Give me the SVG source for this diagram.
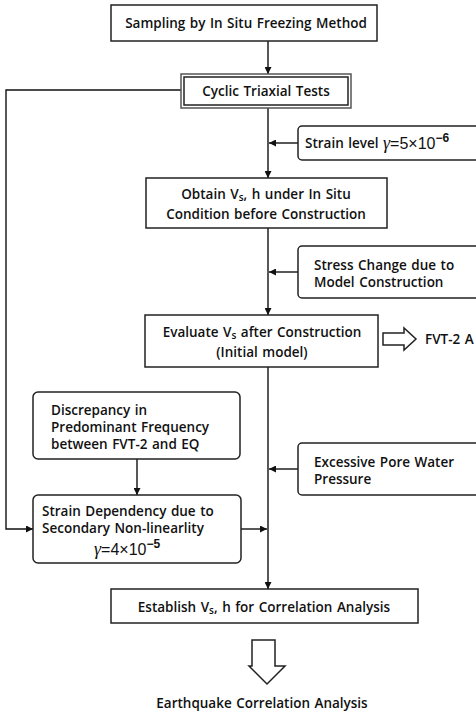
<svg xmlns="http://www.w3.org/2000/svg" width="476" height="715" viewBox="0 0 476 715">
<defs>
<marker id="ah" viewBox="0 0 10 10" refX="10" refY="5" markerWidth="7" markerHeight="7" markerUnits="userSpaceOnUse" orient="auto"><path d="M0,0 L10,5 L0,10 z" fill="#111"/></marker>
<style>
.box{fill:#fff;stroke:#222;stroke-width:1.5}
.ln{fill:none;stroke:#111;stroke-width:1.4}
.t{font-family:"Open Sans","Liberation Sans",sans-serif;font-size:13.5px;font-weight:600;fill:#111;word-spacing:1px}
.m{font-family:"Liberation Sans",sans-serif;font-size:16px;fill:#111;font-weight:normal}
.g{font-family:"Liberation Serif",serif;font-style:italic;font-weight:normal;font-size:18px}
.sup{font-size:12px;font-weight:600}
.hol{fill:#fff;stroke:#222;stroke-width:1.5}
</style>
</defs>
<rect width="476" height="715" fill="#fff"/>
<g id="connectors">
<line class="ln" x1="268" y1="41" x2="268" y2="74" marker-end="url(#ah)"/>
<line class="ln" x1="268" y1="108" x2="268" y2="178" marker-end="url(#ah)"/>
<line class="ln" x1="298" y1="143" x2="269" y2="143" marker-end="url(#ah)"/>
<line class="ln" x1="268" y1="228" x2="268" y2="315" marker-end="url(#ah)"/>
<line class="ln" x1="298" y1="272" x2="269" y2="272" marker-end="url(#ah)"/>
<line class="ln" x1="268" y1="367" x2="268" y2="589" marker-end="url(#ah)"/>
<line class="ln" x1="298" y1="469" x2="269" y2="469" marker-end="url(#ah)"/>
<line class="ln" x1="241" y1="529" x2="267" y2="529" marker-end="url(#ah)"/>
<line class="ln" x1="137" y1="459" x2="137" y2="495" marker-end="url(#ah)"/>
<polyline class="ln" points="181,90 6,90 6,529 33,529" marker-end="url(#ah)"/>
</g>
<g id="sampling">
<rect class="box" x="111" y="5" width="266" height="36"/>
<text class="t" x="246" y="28" text-anchor="middle">Sampling by In Situ Freezing Method</text>
</g>
<g id="cyclic">
<rect x="181" y="74" width="170" height="34" fill="#fff" stroke="#555" stroke-width="1.5"/>
<rect x="184" y="77" width="164" height="28" fill="none" stroke="#222" stroke-width="1.5"/>
<text class="t" x="266" y="96" text-anchor="middle">Cyclic Triaxial Tests</text>
</g>
<g id="strainlevel">
<rect class="box" x="298" y="126" width="190" height="34" rx="4"/>
<text class="t" x="305" y="148">Strain level</text>
<text class="m" x="383" y="149"><tspan class="g">γ</tspan>=5×10<tspan class="sup" baseline-shift="super">−6</tspan></text>
</g>
<g id="obtain">
<rect class="box" x="146" y="178" width="241" height="50"/>
<text class="t" x="266" y="199" text-anchor="middle">Obtain V<tspan font-size="10" baseline-shift="-2">s</tspan>, h under In Situ</text>
<text class="t" x="266" y="219" text-anchor="middle">Condition before Construction</text>
</g>
<g id="stress">
<rect class="box" x="298" y="246" width="190" height="52" rx="4"/>
<text class="t" x="314" y="270">Stress Change due to</text>
<text class="t" x="314" y="287">Model Construction</text>
</g>
<g id="evaluate">
<rect class="box" x="145" y="315" width="233" height="52"/>
<text class="t" x="262" y="337" text-anchor="middle">Evaluate V<tspan font-size="10" baseline-shift="-2">s</tspan> after Construction</text>
<text class="t" x="262" y="357" text-anchor="middle">(Initial model)</text>
</g>
<g id="fvt2">
<path class="hol" d="M383,333 L404,333 L404,328 L416,339 L404,350 L404,345 L383,345 z"/>
<text class="t" x="425" y="344">FVT-2 A</text>
</g>
<g id="discrepancy">
<rect class="box" x="33" y="392" width="207" height="67" rx="5"/>
<text class="t" x="51" y="415">Discrepancy in</text>
<text class="t" x="51" y="432">Predominant Frequency</text>
<text class="t" x="51" y="449">between FVT-2 and EQ</text>
</g>
<g id="excessive">
<rect class="box" x="298" y="443" width="190" height="52" rx="4"/>
<text class="t" x="314" y="467">Excessive Pore Water</text>
<text class="t" x="314" y="484">Pressure</text>
</g>
<g id="straindep">
<rect class="box" x="33" y="495" width="208" height="68" rx="5"/>
<text class="t" x="42" y="516">Strain Dependency due to</text>
<text class="t" x="42" y="533">Secondary Non-linearlity</text>
<text class="m" x="94" y="555"><tspan class="g">γ</tspan>=4×10<tspan class="sup" baseline-shift="super">−5</tspan></text>
</g>
<g id="establish">
<rect class="box" x="111" y="589" width="307" height="34"/>
<text class="t" x="264" y="612" text-anchor="middle">Establish V<tspan font-size="10" baseline-shift="-2">s</tspan>, h for Correlation Analysis</text>
</g>
<g id="eq">
<path class="hol" d="M252,640 L275,640 L275,666 L285,666 L267,684 L249,666 L252,666 z"/>
<text class="t" x="262" y="708" text-anchor="middle">Earthquake Correlation Analysis</text>
</g>
</svg>
